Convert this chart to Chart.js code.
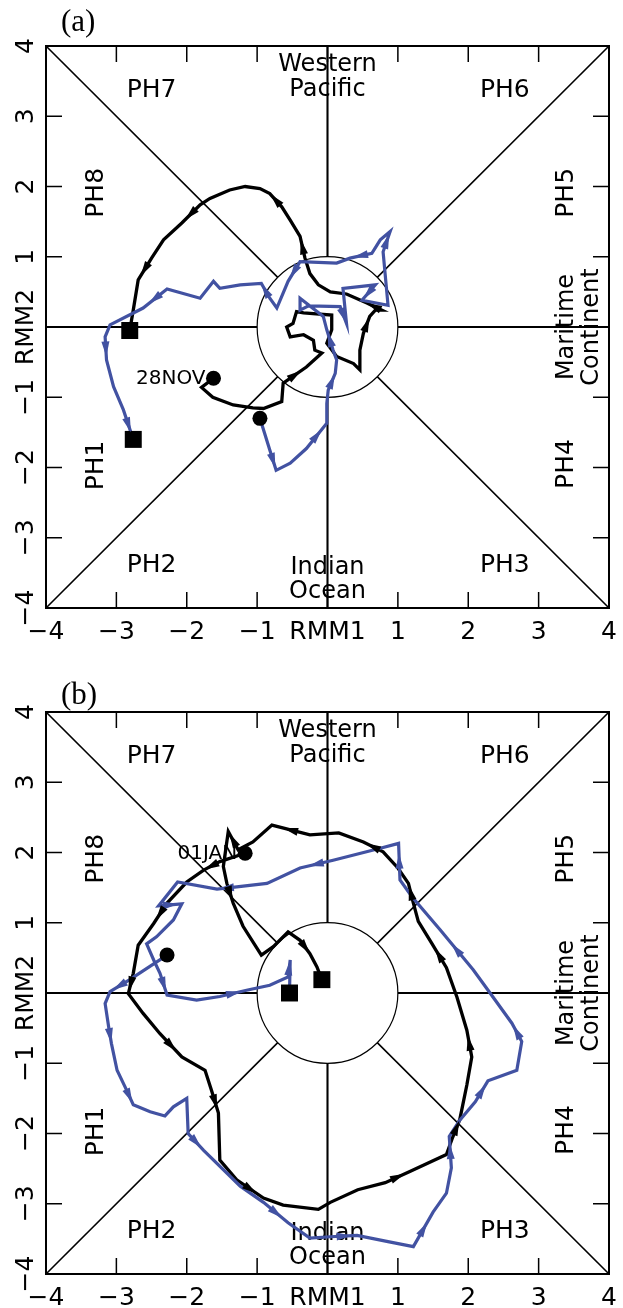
<!DOCTYPE html>
<html>
<head>
<meta charset="utf-8">
<title>RMM phase diagrams</title>
<script src="https://cdn.jsdelivr.net/npm/chart.js@4.4.0/dist/chart.umd.min.js"></script>
<style>
  body { margin: 0; background: #fff; }
  .panel { position: absolute; left: 0; width: 623px; height: 654px; }
  #panelA { top: 0; }
  #panelB { top: 654px; }
</style>
</head>
<body>
<div class="panel" id="panelA"><canvas id="chartA" width="623" height="654"></canvas></div>
<div class="panel" id="panelB"><canvas id="chartB" width="623" height="654"></canvas></div>
<script>
// eixos: valores dos ticks e rótulos (RMM1 / RMM2 no lugar do zero)
const tickValues = [-4, -3, -2, -1, 0, 1, 2, 3, 4];
const xTickLabels = ['−4', '−3', '−2', '−1', 'RMM1', '1', '2', '3', '4'];
const yTickLabels = ['−4', '−3', '−2', '−1', 'RMM2', '1', '2', '3', '4'];

// painel (a)
const aBlackRmm1 = [-1.62, -1.79, -1.63, -1.34, -1.06, -0.91, -0.65, -0.63, -0.30, -0.08,
  -0.18, -0.20, -0.34, -0.53, -0.58, -0.49, -0.44, -0.34, 0.06, 0.06,
  -0.01, 0.13, 0.37, 0.46, 0.46, 0.51, 0.60, 0.68, 0.77, 0.56,
  0.27, 0.04, -0.13, -0.25, -0.32, -0.39, -0.53, -0.65, -0.82, -0.96,
  -1.17, -1.39, -1.67, -1.81, -2.07, -2.33, -2.50, -2.69, -2.76, -2.81];
const aBlackRmm2 = [-0.73, -0.86, -1.00, -1.11, -1.15, -1.16, -1.06, -0.80, -0.57, -0.37,
  -0.33, -0.19, -0.11, -0.14, 0.00, 0.05, 0.22, 0.20, 0.17, -0.04,
  -0.23, -0.42, -0.52, -0.61, -0.33, -0.09, 0.15, 0.24, 0.24, 0.34,
  0.47, 0.50, 0.60, 0.76, 0.98, 1.29, 1.52, 1.71, 1.90, 1.97,
  2.00, 1.95, 1.83, 1.74, 1.48, 1.24, 0.98, 0.67, 0.24, -0.05];
const aBlueRmm1 = [-0.96, -0.82, -0.73, -0.53, -0.30, -0.01, -0.01, 0.01, 0.11, 0.13,
  0.08, -0.01, -0.06, -0.39, -0.39, -0.27, 0.18, 0.27, 0.22, 0.68,
  0.49, 0.86, 0.79, 0.89, 0.75, 0.63, 0.32, 0.13, -0.39, -0.56,
  -0.72, -0.82, -0.94, -1.24, -1.53, -1.62, -1.81, -2.28, -2.62, -3.09,
  -3.16, -3.14, -3.04, -2.90, -2.76];
const aBlueRmm2 = [-1.30, -1.75, -2.04, -1.94, -1.73, -1.37, -1.09, -0.90, -0.66, -0.47,
  -0.33, -0.04, 0.15, 0.41, 0.24, 0.30, 0.29, 0.05, 0.55, 0.60,
  0.38, 0.31, 1.07, 1.36, 1.24, 1.05, 0.98, 0.91, 0.93, 0.65,
  0.27, 0.41, 0.62, 0.60, 0.55, 0.65, 0.41, 0.54, 0.27, 0.03,
  -0.14, -0.47, -0.85, -1.18, -1.60];
const aStartLabel = '28NOV';

// painel (b)
const bBlackRmm1 = [-1.17, -1.53, -1.76, -2.00, -2.28, -2.47, -2.69, -2.76, -2.83, -2.62,
  -2.38, -2.07, -1.74, -1.65, -1.55, -1.53, -1.29, -0.91, -0.63, -0.13,
  0.04, 0.43, 0.82, 1.17, 1.69, 1.78, 1.88, 1.98, 2.05, 1.98,
  1.84, 1.69, 1.48, 1.29, 1.22, 1.15, 1.00, 0.79, 0.51, 0.16,
  -0.25, -0.79, -1.06, -1.27, -1.41, -1.48, -1.43, -1.34, -1.20, -0.94,
  -0.77, -0.56, -0.39, -0.25, -0.15, -0.08];
const bBlackRmm2 = [1.99, 1.87, 1.75, 1.58, 1.28, 0.99, 0.68, 0.28, -0.01, -0.29,
  -0.58, -0.91, -1.10, -1.38, -1.71, -2.38, -2.66, -2.92, -3.02, -3.08,
  -2.98, -2.80, -2.70, -2.54, -2.30, -2.05, -1.80, -1.31, -0.91, -0.53,
  -0.06, 0.36, 0.71, 1.02, 1.28, 1.56, 1.78, 2.01, 2.15, 2.28,
  2.25, 2.39, 2.15, 2.04, 2.30, 1.80, 1.56, 1.28, 0.95, 0.54,
  0.66, 0.87, 0.75, 0.56, 0.37, 0.19];
const bBlueRmm1 = [-2.28, -2.81, -3.09, -3.16, -3.11, -3.07, -2.99, -2.88, -2.76, -2.52,
  -2.31, -2.19, -2.00, -1.98, -1.76, -1.24, -0.91, -0.56, -0.25, 0.04,
  0.42, 0.86, 1.22, 1.50, 1.69, 1.76, 1.73, 1.88, 2.10, 2.28,
  2.69, 2.76, 2.62, 2.31, 2.07, 1.60, 1.20, 1.03, 1.01, 0.75,
  0.08, -0.39, -0.86, -1.29, -1.57, -2.13, -2.40, -2.07, -2.19, -2.43,
  -2.57, -2.47, -2.38, -2.28, -1.86, -1.53, -1.15, -0.82, -0.56, -0.53, -0.54];
const bBlueRmm2 = [0.54, 0.19, 0.02, -0.15, -0.48, -0.72, -1.10, -1.33, -1.59, -1.69,
  -1.75, -1.62, -1.50, -2.00, -2.24, -2.75, -2.98, -3.27, -3.49, -3.47,
  -3.45, -3.54, -3.61, -3.12, -2.85, -2.49, -2.04, -1.81, -1.55, -1.25,
  -1.10, -0.69, -0.43, 0.00, 0.33, 0.90, 1.37, 1.61, 2.13, 2.06,
  1.89, 1.78, 1.56, 1.51, 1.48, 1.58, 1.24, 1.27, 1.04, 0.80,
  0.70, 0.47, 0.28, -0.03, -0.10, -0.05, 0.04, 0.11, 0.23, 0.47, 0.00];
const bStartLabel = '01JAN';

const BLUE = '#4252a2';
const FONT = '"DejaVu Sans", sans-serif';

function toPoints(xs, ys) {
  return xs.map((v, i) => ({ x: v, y: ys[i] }));
}

function rotText(ctx, txt, px, py) {
  ctx.save();
  ctx.translate(px, py);
  ctx.rotate(-Math.PI / 2);
  ctx.fillText(txt, 0, 0);
  ctx.restore();
}

// fundo do diagrama de fases: caixa, círculo, raios, ticks, rótulos
const phaseDiagram = {
  id: 'phaseDiagram',
  beforeDatasetsDraw(chart, args, opts) {
    const { ctx, chartArea: a, scales: { x, y } } = chart;
    const cx = x.getPixelForValue(0), cy = y.getPixelForValue(0);
    const r = x.getPixelForValue(1) - cx;
    ctx.save();
    ctx.strokeStyle = '#000';
    ctx.fillStyle = '#000';

    // raios do círculo até a borda
    [[1, 0], [-1, 0], [0, 1], [0, -1], [1, 1], [-1, 1], [1, -1], [-1, -1]].forEach(([dx, dy]) => {
      const n = Math.hypot(dx, dy);
      ctx.lineWidth = (dx && dy) ? 1.6 : 2.1;
      ctx.beginPath();
      ctx.moveTo(x.getPixelForValue(dx / n), y.getPixelForValue(dy / n));
      ctx.lineTo(x.getPixelForValue(dx * 4), y.getPixelForValue(dy * 4));
      ctx.stroke();
    });

    ctx.lineWidth = 1.2;
    ctx.beginPath();
    ctx.arc(cx, cy, r, 0, Math.PI * 2);
    ctx.stroke();

    ctx.lineWidth = 2;
    ctx.strokeRect(a.left, a.top, a.width, a.height);

    // ticks para dentro nos quatro lados
    ctx.lineWidth = 1.5;
    const tl = 16;
    tickValues.filter(v => Math.abs(v) < 4).forEach(v => {
      const px = x.getPixelForValue(v), py = y.getPixelForValue(v);
      ctx.beginPath();
      ctx.moveTo(px, a.top); ctx.lineTo(px, a.top + tl);
      ctx.moveTo(px, a.bottom); ctx.lineTo(px, a.bottom - tl);
      ctx.moveTo(a.left, py); ctx.lineTo(a.left + tl, py);
      ctx.moveTo(a.right, py); ctx.lineTo(a.right - tl, py);
      ctx.stroke();
    });

    ctx.font = '25px ' + FONT;
    ctx.textAlign = 'center';
    ctx.textBaseline = 'middle';
    tickValues.forEach((v, i) => {
      ctx.fillText(xTickLabels[i], x.getPixelForValue(v), a.bottom + 24);
      rotText(ctx, yTickLabels[i], a.left - 20, y.getPixelForValue(v));
    });

    // fases
    const P = (vx, vy) => [x.getPixelForValue(vx), y.getPixelForValue(vy)];
    ctx.font = '25px ' + FONT;
    [['PH7', -2.5, 3.36], ['PH6', 2.52, 3.36], ['PH2', -2.5, -3.4], ['PH3', 2.52, -3.4]].forEach(([t, vx, vy]) => {
      const [px, py] = P(vx, vy);
      ctx.fillText(t, px, py);
    });
    [['PH8', -3.28, 1.91], ['PH5', 3.39, 1.91], ['PH1', -3.28, -1.97], ['PH4', 3.39, -1.95]].forEach(([t, vx, vy]) => {
      const [px, py] = P(vx, vy);
      rotText(ctx, t, px, py);
    });

    ctx.font = '24px ' + FONT;
    ctx.fillText('Western', cx, a.top + 19);
    ctx.fillText('Pacific', cx, a.top + 44);
    ctx.fillText('Indian', cx, a.bottom - 40);
    ctx.fillText('Ocean', cx, a.bottom - 16);
    rotText(ctx, 'Maritime', a.right - 42, cy);
    rotText(ctx, 'Continent', a.right - 17, cy);

    // letra do painel
    ctx.font = '31px "Liberation Serif", serif';
    ctx.textAlign = 'left';
    ctx.fillText(opts.letter, 61, a.top - opts.letterGap);
    ctx.restore();
  },
  afterDatasetsDraw(chart, args, opts) {
    const { ctx } = chart;
    ctx.save();
    // setas ao longo das trajetórias
    chart.data.datasets.forEach((ds, di) => {
      if (!ds.arrows) return;
      const pts = chart.getDatasetMeta(di).data;
      ctx.fillStyle = ds.borderColor;
      for (let i = 1; i < pts.length - 1; i += 3) {
        const p0 = pts[i], p1 = pts[i + 1];
        const dx = p1.x - p0.x, dy = p1.y - p0.y;
        const len = Math.hypot(dx, dy);
        if (len < 16) continue;
        const ux = dx / len, uy = dy / len;
        const mx = (p0.x + p1.x) / 2, my = (p0.y + p1.y) / 2;
        ctx.beginPath();
        ctx.moveTo(mx + ux * 8, my + uy * 8);
        ctx.lineTo(mx - ux * 7 - uy * 4, my - uy * 7 + ux * 4);
        ctx.lineTo(mx - ux * 7 + uy * 4, my - uy * 7 - ux * 4);
        ctx.closePath();
        ctx.fill();
      }
    });
    // data inicial, ao lado do primeiro marcador
    const start = chart.getDatasetMeta(0).data[0];
    ctx.fillStyle = '#000';
    ctx.font = '20px ' + FONT;
    ctx.textAlign = 'right';
    ctx.textBaseline = 'middle';
    ctx.fillText(opts.startLabel, start.x - 8, start.y + 1);
    ctx.restore();
  }
};

function makeChart(canvasId, blackX, blackY, blueX, blueY, startLabel, letter, padding, letterGap) {
  const black = toPoints(blackX, blackY);
  const blue = toPoints(blueX, blueY);
  const ctx = document.getElementById(canvasId).getContext('2d');
  return new Chart(ctx, {
    type: 'scatter',
    data: {
      datasets: [
        {
          data: [black[0], blue[0]],
          pointStyle: 'circle', pointRadius: 7.5, pointBorderWidth: 0,
          backgroundColor: '#000', borderColor: '#000'
        },
        {
          data: [black[black.length - 1], blue[blue.length - 1]],
          pointStyle: 'rect', pointRadius: 12, pointBorderWidth: 0,
          backgroundColor: '#000', borderColor: '#000'
        },
        {
          data: blue, showLine: true, borderColor: BLUE, borderWidth: 3.2,
          pointRadius: 0, arrows: true
        },
        {
          data: black, showLine: true, borderColor: '#000', borderWidth: 3.3,
          pointRadius: 0, arrows: true
        }
      ]
    },
    options: {
      responsive: false,
      animation: false,
      devicePixelRatio: 1,
      layout: { padding: padding },
      scales: {
        x: { type: 'linear', min: -4, max: 4, display: false },
        y: { type: 'linear', min: -4, max: 4, display: false }
      },
      plugins: {
        legend: { display: false },
        tooltip: { enabled: false },
        phaseDiagram: { letter: letter, letterGap: letterGap, startLabel: startLabel }
      }
    },
    plugins: [phaseDiagram]
  });
}

makeChart('chartA', aBlackRmm1, aBlackRmm2, aBlueRmm1, aBlueRmm2, aStartLabel, '(a)',
  { left: 46, right: 14, top: 46, bottom: 46 }, 23);
makeChart('chartB', bBlackRmm1, bBlackRmm2, bBlueRmm1, bBlueRmm2, bStartLabel, '(b)',
  { left: 46, right: 14, top: 58, bottom: 34 }, 16);
</script>
</body>
</html>
